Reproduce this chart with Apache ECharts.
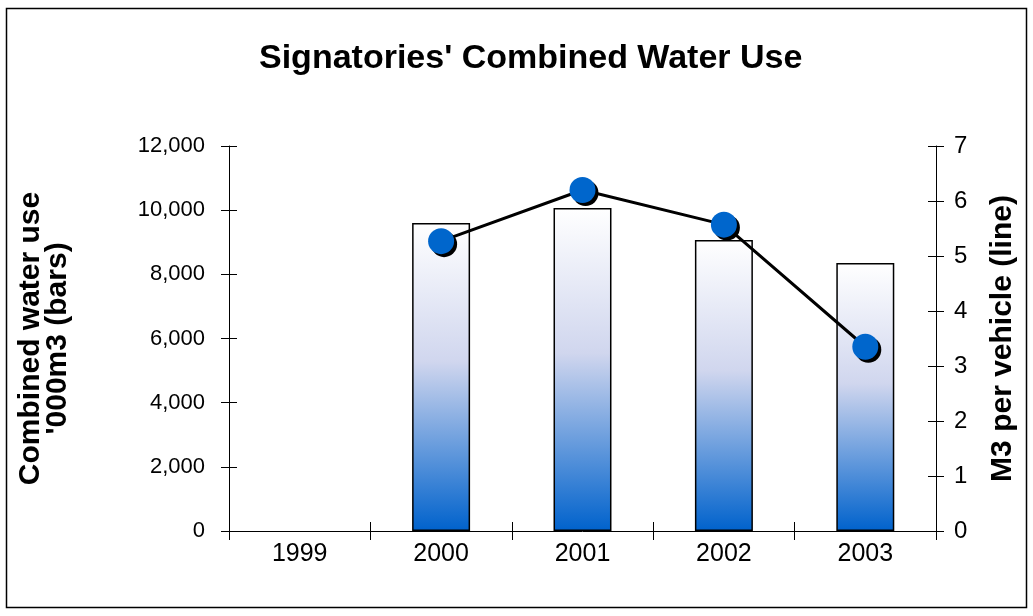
<!DOCTYPE html>
<html>
<head>
<meta charset="utf-8">
<script src="https://cdn.jsdelivr.net/npm/echarts@6/dist/echarts.min.js"></script>
<style>html,body{margin:0;padding:0;background:#fff}#c{width:1033px;height:616px}</style>
</head>
<body>
<div id="c"></div>
<script>
var categories = ['1999', '2000', '2001', '2002', '2003'];
var waterUse = [null, 9600, 10070, 9070, 8350];
var perVehicle = [null, 5.27, 6.2, 5.57, 3.35];

var chart = echarts.init(document.getElementById('c'));
var font = 'Liberation Sans, Arial, sans-serif';
chart.setOption({
  animation: false,
  backgroundColor: '#fff',
  title: {
    text: "Signatories' Combined Water Use",
    left: 254, top: 37,
    textStyle: {fontFamily: font, fontSize: 34, fontWeight: 'bold', color: '#000'}
  },
  graphic: [{
    type: 'rect', shape: {x: 6.5, y: 8.5, width: 1020, height: 599},
    style: {fill: null, stroke: '#000', lineWidth: 1.5}, silent: true
  }],
  grid: {left: 229, right: 97, top: 146, bottom: 85},
  xAxis: [{
    type: 'category', data: categories, boundaryGap: true,
    axisLine: {lineStyle: {color: '#000', width: 1}},
    axisTick: {show: true, inside: false, length: 9, lineStyle: {color: '#000'}},
    axisLabel: {fontFamily: font, fontSize: 25, color: '#000', margin: 11}
  }, {
    type: 'category', data: categories, boundaryGap: true, position: 'bottom',
    axisLine: {show: false},
    axisTick: {show: true, inside: true, length: 9, lineStyle: {color: '#000'}},
    axisLabel: {show: false}
  }],
  yAxis: [{
    type: 'value', min: 0, max: 12000, interval: 2000, position: 'left',
    name: "Combined water use\n'000m3 (bars)", nameLocation: 'middle', nameGap: 158, nameRotate: 90,
    nameTextStyle: {fontFamily: font, fontSize: 30, fontWeight: 'bold', color: '#000', lineHeight: 27},
    axisLine: {show: true, lineStyle: {color: '#000'}},
    axisTick: {show: true, length: 8, lineStyle: {color: '#000'}},
    splitLine: {show: false},
    axisLabel: {fontFamily: font, fontSize: 22, color: '#000', margin: 24,
      formatter: function (v) { return v.toLocaleString('en-US'); }}
  }, {
    type: 'value', min: 0, max: 7, interval: 1, position: 'right',
    name: 'M3 per vehicle (line)', nameLocation: 'middle', nameGap: 52, nameRotate: 90,
    nameTextStyle: {fontFamily: font, fontSize: 30, fontWeight: 'bold', color: '#000'},
    axisLine: {show: true, lineStyle: {color: '#000'}},
    axisTick: {show: true, length: 8, lineStyle: {color: '#000'}},
    splitLine: {show: false},
    axisLabel: {fontFamily: font, fontSize: 24, color: '#000', margin: 18}
  }, {
    type: 'value', min: 0, max: 12000, interval: 2000, position: 'left',
    axisLine: {show: false}, axisTick: {show: true, inside: true, length: 8, lineStyle: {color: '#000'}},
    axisLabel: {show: false}, splitLine: {show: false}
  }, {
    type: 'value', min: 0, max: 7, interval: 1, position: 'right',
    axisLine: {show: false}, axisTick: {show: true, inside: true, length: 8, lineStyle: {color: '#000'}},
    axisLabel: {show: false}, splitLine: {show: false}
  }],
  series: [{
    type: 'bar', data: waterUse, yAxisIndex: 0, barWidth: '41%',
    itemStyle: {
      color: new echarts.graphic.LinearGradient(0, 0, 0, 1, [
        {offset: 0, color: '#ffffff'},
        {offset: 0.45, color: '#d0d6ee'},
        {offset: 1, color: '#0062cc'}
      ]),
      borderColor: '#000', borderWidth: 1.5
    }
  }, {
    type: 'line', data: perVehicle, yAxisIndex: 1,
    symbol: 'circle', symbolSize: 26,
    lineStyle: {color: '#000', width: 3},
    itemStyle: {color: '#0066cc', shadowColor: '#000', shadowOffsetX: 3, shadowOffsetY: 3, shadowBlur: 0}
  }]
});
</script>
</body>
</html>
